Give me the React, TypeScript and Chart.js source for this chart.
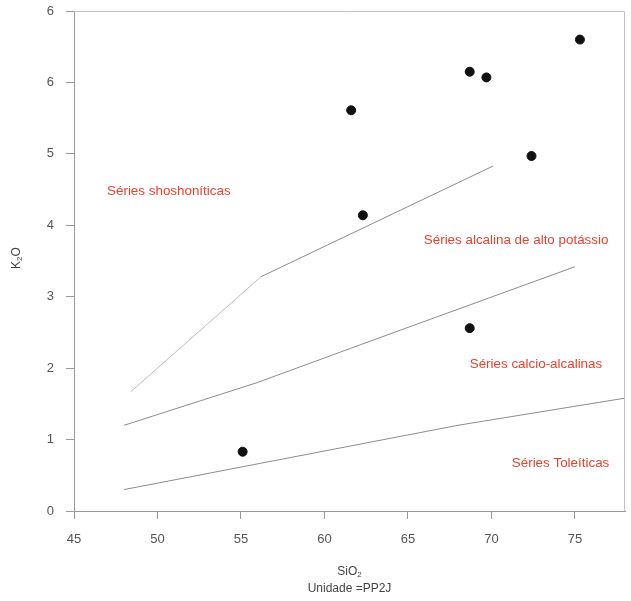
import React, { useEffect, useRef } from "react";
import { Chart, registerables } from "chart.js";

Chart.register(...registerables);

// Sample analyses: SiO2 (wt%) vs K2O (wt%)
const sio2 = [55.1, 61.6, 62.3, 68.7, 69.7, 72.4, 75.3, 68.7];
const k2o = [0.83, 5.61, 4.14, 6.15, 6.07, 4.97, 6.6, 2.56];

// Series boundary lines
const shoshoniticLowX = [48.4, 56.2];
const shoshoniticLowY = [1.67, 3.28];
const shoshoniticHighX = [56.2, 70.1];
const shoshoniticHighY = [3.28, 4.83];
const highKX = [48, 56, 63, 75];
const highKY = [1.2, 1.8, 2.4, 3.42];
const tholeiiticX = [48, 68, 78];
const tholeiiticY = [0.3, 1.2, 1.58];

// Axes
const xTicks = [45, 50, 55, 60, 65, 70, 75];
const yTicks = [0, 1, 2, 3, 4, 5, 6, 7];
const yTickLabels = ["0", "1", "2", "3", "4", "5", "6", "6"];

// Field names, anchored (left edge, middle) in data units
const fieldNames = [
  "Séries shoshoníticas",
  "Séries alcalina de alto potássio",
  "Séries calcio-alcalinas",
  "Séries Toleíticas",
];
const fieldNameX = [46.98, 65.95, 68.7, 71.22];
const fieldNameY = [4.48, 3.79, 2.06, 0.67];

const FONT = "'Liberation Sans', Arial, Helvetica, sans-serif";
const AXIS_GRAY = "#9a9a9a";

const toXY = (xs: number[], ys: number[]) => xs.map((x, i) => ({ x, y: ys[i] }));

const annotations = {
  id: "annotations",
  afterDraw(chart: any) {
    const { ctx, chartArea, scales } = chart;
    const xs = scales.x;
    const ys = scales.y;
    ctx.save();

    // top and right frame
    ctx.strokeStyle = "#c4c4c4";
    ctx.lineWidth = 1;
    ctx.beginPath();
    ctx.moveTo(chartArea.left, chartArea.top + 0.5);
    ctx.lineTo(chartArea.right - 0.5, chartArea.top + 0.5);
    ctx.lineTo(chartArea.right - 0.5, chartArea.bottom);
    ctx.stroke();

    // field names
    ctx.fillStyle = "#e8422f";
    ctx.font = `13.4px ${FONT}`;
    ctx.textAlign = "left";
    ctx.textBaseline = "middle";
    fieldNames.forEach((name, i) => {
      ctx.fillText(name, xs.getPixelForValue(fieldNameX[i]), ys.getPixelForValue(fieldNameY[i]));
    });

    // axis titles with subscripts
    ctx.fillStyle = "#444";
    const drawSub = (base: string, sub: string, rest: string, cx: number, cy: number) => {
      ctx.font = `12px ${FONT}`;
      const wb = ctx.measureText(base).width;
      const wr = ctx.measureText(rest).width;
      ctx.font = `8px ${FONT}`;
      const ws = ctx.measureText(sub).width;
      const total = wb + ws + wr;
      let x = cx - total / 2;
      ctx.textAlign = "left";
      ctx.textBaseline = "middle";
      ctx.font = `12px ${FONT}`;
      ctx.fillText(base, x, cy);
      x += wb;
      ctx.font = `8px ${FONT}`;
      ctx.fillText(sub, x, cy + 3);
      x += ws;
      ctx.font = `12px ${FONT}`;
      ctx.fillText(rest, x, cy);
    };

    const midX = (chartArea.left + chartArea.right) / 2;
    drawSub("SiO", "2", "", midX, 572);
    ctx.font = `12px ${FONT}`;
    ctx.textAlign = "center";
    ctx.fillText("Unidade =PP2J", midX, 589);

    ctx.save();
    ctx.translate(17, 258);
    ctx.rotate(-Math.PI / 2);
    drawSub("K", "2", "O", 0, 0);
    ctx.restore();

    ctx.restore();
  },
};

export default function App() {
  const canvasRef = useRef<HTMLCanvasElement | null>(null);

  useEffect(() => {
    if (!canvasRef.current) return;
    const lineStyle = {
      type: "line" as const,
      showLine: true,
      pointRadius: 0,
      borderWidth: 1,
      fill: false,
      tension: 0,
    };
    const chart = new Chart(canvasRef.current, {
      type: "scatter",
      data: {
        datasets: [
          {
            label: "Amostras",
            data: toXY(sio2, k2o),
            backgroundColor: "#111",
            borderColor: "#111",
            pointRadius: 4.5,
            pointHoverRadius: 4.5,
          },
          { ...lineStyle, label: "shoshonítica (a)", data: toXY(shoshoniticLowX, shoshoniticLowY), borderColor: "#bdbdbd" },
          { ...lineStyle, label: "shoshonítica (b)", data: toXY(shoshoniticHighX, shoshoniticHighY), borderColor: "#8c8c8c" },
          { ...lineStyle, label: "alto potássio", data: toXY(highKX, highKY), borderColor: "#8c8c8c" },
          { ...lineStyle, label: "toleítica", data: toXY(tholeiiticX, tholeiiticY), borderColor: "#8c8c8c" },
        ] as any,
      },
      options: {
        animation: false,
        responsive: false,
        layout: { padding: { left: 0, top: 11, right: 6, bottom: 0 } },
        plugins: {
          legend: { display: false },
          tooltip: { enabled: false },
        },
        scales: {
          x: {
            type: "linear",
            min: 45,
            max: 78,
            afterBuildTicks: (s: any) => {
              s.ticks = xTicks.map((v) => ({ value: v }));
            },
            afterFit: (s: any) => {
              s.height = 90;
              s.paddingLeft = 0;
              s.paddingRight = 0;
            },
            grid: {
              drawOnChartArea: false,
              drawTicks: true,
              tickLength: 8,
              tickColor: AXIS_GRAY,
            },
            border: { color: AXIS_GRAY, width: 1 },
            ticks: {
              padding: 13,
              color: "#555",
              font: { family: FONT, size: 13 },
              maxRotation: 0,
            },
          },
          y: {
            type: "linear",
            min: 0,
            max: 7,
            afterBuildTicks: (s: any) => {
              s.ticks = yTicks.map((v) => ({ value: v }));
            },
            afterFit: (s: any) => {
              s.width = 74;
              s.paddingTop = 0;
              s.paddingBottom = 0;
            },
            grid: {
              drawOnChartArea: false,
              drawTicks: true,
              tickLength: 8,
              tickColor: AXIS_GRAY,
            },
            border: { color: AXIS_GRAY, width: 1 },
            ticks: {
              padding: 12,
              color: "#555",
              font: { family: FONT, size: 13 },
              callback: (_v: any, i: number) => yTickLabels[i],
            },
          },
        },
      },
      plugins: [annotations],
    });
    return () => chart.destroy();
  }, []);

  return (
    <div style={{ position: "absolute", left: 0, top: 0, width: 631, height: 601, background: "#fff" }}>
      <canvas ref={canvasRef} width={631} height={601} />
    </div>
  );
}
